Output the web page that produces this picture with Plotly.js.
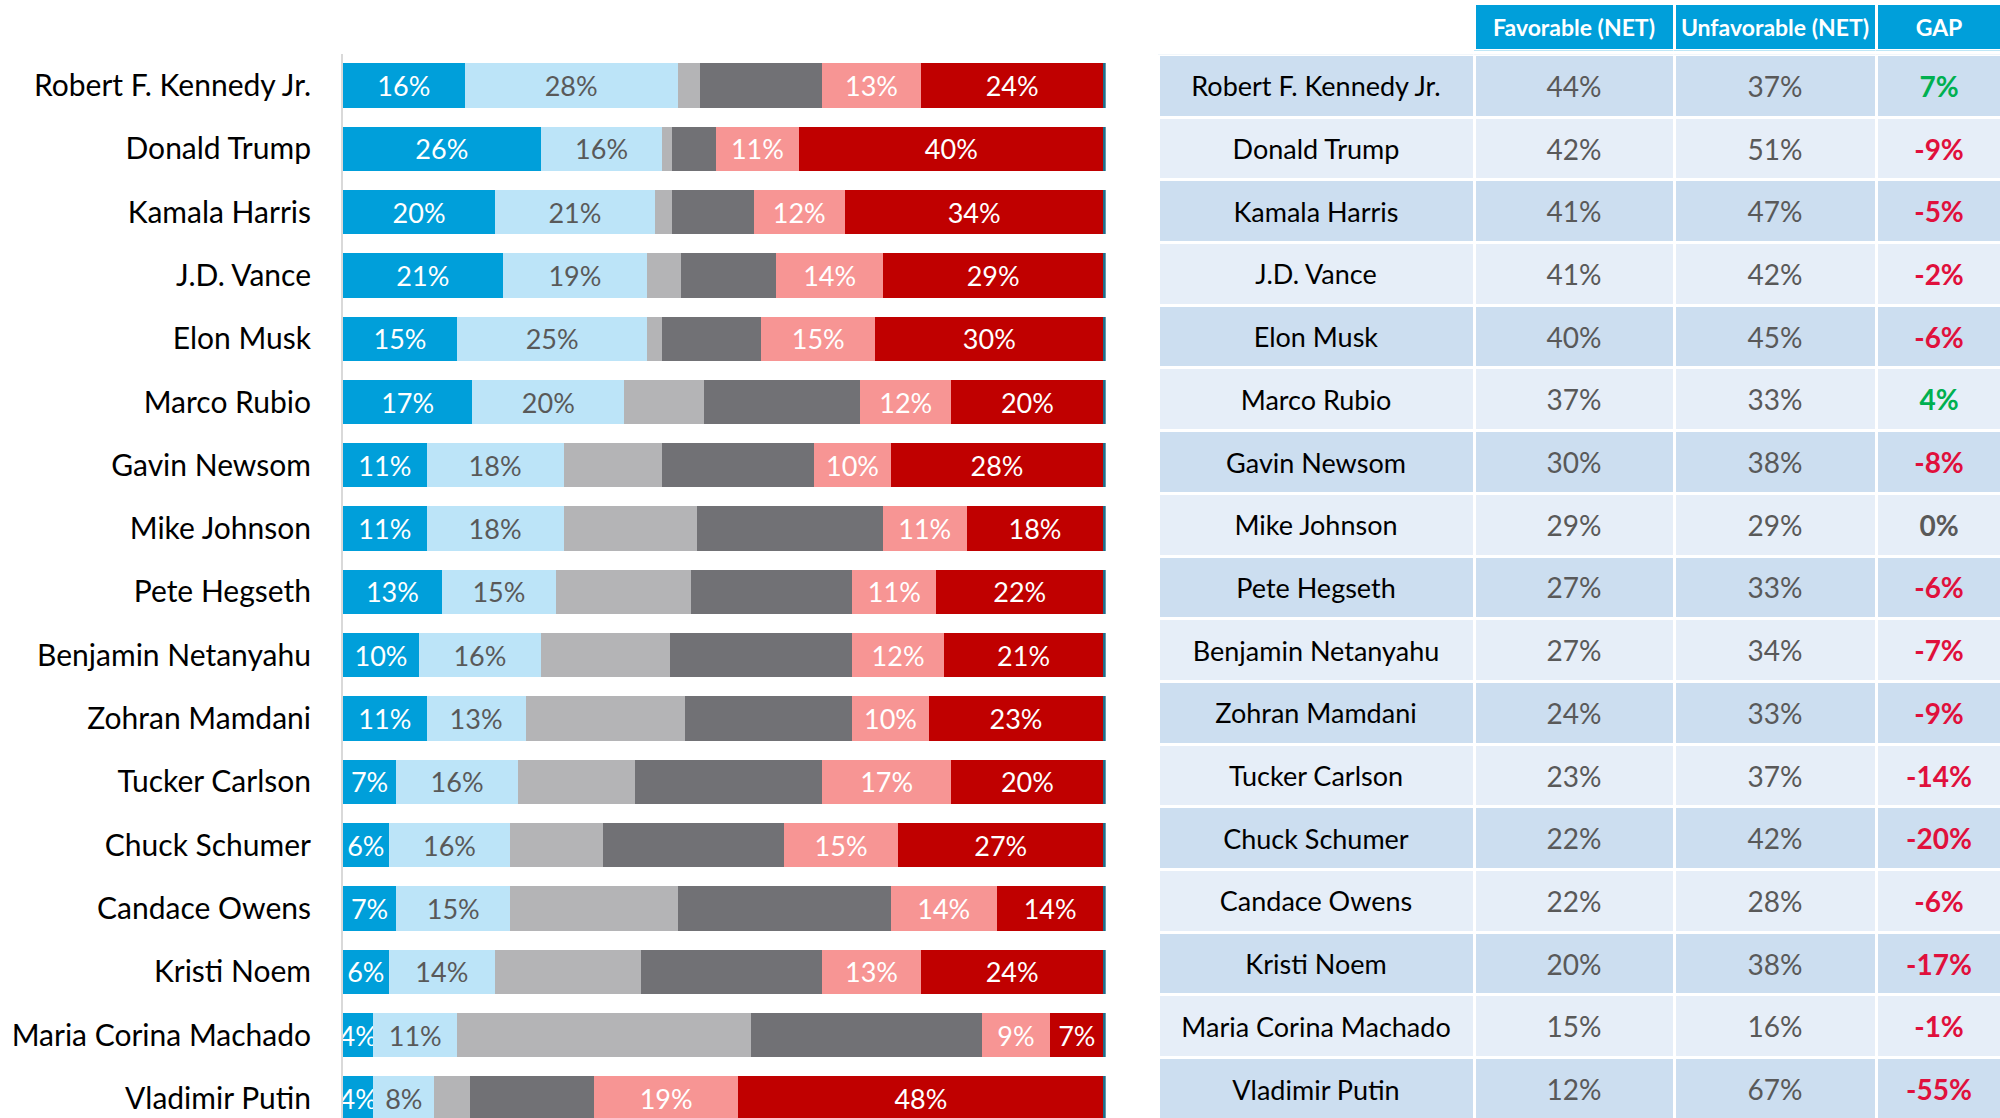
<!DOCTYPE html>
<html>
<head>
<meta charset="utf-8">
<script src="https://cdn.plot.ly/plotly-3.0.1.min.js"></script>
<style>
html, body { margin: 0; padding: 0; overflow: hidden; background: #ffffff; }
#chart { width: 2000px; height: 1160px; }
</style>
</head>
<body>
<div id="chart"></div>
<script>
// ---------- DATA ----------
const names = ["Robert F. Kennedy Jr.", "Donald Trump", "Kamala Harris", "J.D. Vance", "Elon Musk",
  "Marco Rubio", "Gavin Newsom", "Mike Johnson", "Pete Hegseth", "Benjamin Netanyahu",
  "Zohran Mamdani", "Tucker Carlson", "Chuck Schumer", "Candace Owens", "Kristi Noem",
  "Maria Corina Machado", "Vladimir Putin"];

const veryFav   = [16, 26, 20, 21, 15, 17, 11, 11, 13, 10, 11, 7, 6, 7, 6, 4, 4];
const someFav   = [28, 16, 21, 19, 25, 20, 18, 18, 15, 16, 13, 16, 16, 15, 14, 11, 8];
const neutral   = [3, 1.3, 2.2, 4.5, 2, 10.5, 13, 17.6, 17.8, 17, 21, 15.4, 12.2, 22, 19.2, 38.7, 4.7];
const neverHeard= [16, 5.7, 10.8, 12.5, 13, 20.5, 20, 24.4, 21.2, 24, 22, 24.6, 23.8, 28, 23.8, 30.3, 16.3];
const someUnfav = [13, 11, 12, 14, 15, 12, 10, 11, 11, 12, 10, 17, 15, 14, 13, 9, 19];
const veryUnfav = [24, 40, 34, 29, 30, 20, 28, 18, 22, 21, 23, 20, 27, 14, 24, 7, 48];
const other     = [0.3, 0.3, 0.3, 0.3, 0.3, 0.3, 0.3, 0.3, 0.3, 0.3, 0.3, 0.3, 0.3, 0.3, 0.3, 0.3, 0.3];

const favNet   = [44, 42, 41, 41, 40, 37, 30, 29, 27, 27, 24, 23, 22, 22, 20, 15, 12];
const unfavNet = [37, 51, 47, 42, 45, 33, 38, 29, 33, 34, 33, 37, 42, 28, 38, 16, 67];
const gap      = [7, -9, -5, -2, -6, 4, -8, 0, -6, -7, -9, -14, -20, -6, -17, -1, -55];

const tableHeaders = ["", "Favorable (NET)", "Unfavorable (NET)", "GAP"];

// ---------- STYLE ----------
const FONT = "Lato, 'Open Sans', sans-serif";
const H = 1160;
const px = p => 1 - p / H;
const colW = [316, 200, 202, 126];
const rowDark = "#CCDEF0", rowLight = "#E6EEF8";
const rowColors = names.map((_, i) => i % 2 === 0 ? rowDark : rowLight);
const pct = v => v + "%";

function seg(vals, color, txtColor, showText) {
  return {
    type: "bar", orientation: "h", x: vals, y: names, xaxis: "x", yaxis: "y",
    marker: { color: color, line: { width: 0 } },
    text: showText ? vals.map(pct) : null,
    textposition: showText ? "inside" : "none",
    insidetextanchor: "middle", textangle: 0, constraintext: "none",
    textfont: { family: FONT, size: 27, color: txtColor },
    hoverinfo: "skip", showlegend: false, cliponaxis: false
  };
}

const traces = [
  seg(veryFav, "#009FDA", "#FFFFFF", true),
  seg(someFav, "#BCE4F8", "#595959", true),
  seg(neutral, "#B4B4B6", "#595959", false),
  seg(neverHeard, "#717175", "#FFFFFF", false),
  seg(someUnfav, "#F79594", "#FFFFFF", true),
  seg(veryUnfav, "#C00000", "#FFFFFF", true),
  seg(other, "#1F6F8B", "#FFFFFF", false)
];

// table columns
const gapColors = gap.map(g => g > 0 ? "#00B050" : (g < 0 ? "#E0103C" : "#595959"));
const colTexts = [names, favNet.map(pct), unfavNet.map(pct), gap.map(pct)];
const colFontColors = [names.map(() => "#000000"), favNet.map(() => "#595959"), unfavNet.map(() => "#595959"), gapColors];
const colBold = [false, false, false, true];
const colSize = [27, 28, 28, 28];

colTexts.forEach((txt, c) => {
  traces.push({
    type: "bar", orientation: "h", x: names.map(() => colW[c]), y: names,
    xaxis: "x2", yaxis: "y3", width: 1,
    marker: { color: rowColors, line: { color: "#FFFFFF", width: 3 } },
    text: txt, textposition: "inside", insidetextanchor: "middle", textangle: 0, constraintext: "none",
    textfont: { family: FONT, size: colSize[c], color: colFontColors[c], weight: colBold[c] ? "bold" : "normal" },
    hoverinfo: "skip", showlegend: false
  });
});

tableHeaders.forEach((h, c) => {
  traces.push({
    type: "bar", orientation: "h", x: [colW[c]], y: ["hdr"],
    xaxis: "x2", yaxis: "y4", width: 1,
    marker: { color: c === 0 ? "rgba(0,0,0,0)" : "#009FDA", line: { color: "#FFFFFF", width: c === 0 ? 0 : 3 } },
    text: [h], textposition: "inside", insidetextanchor: "middle", textangle: 0, constraintext: "none",
    textfont: { family: FONT, size: 23, color: "#FFFFFF", weight: "bold" },
    hoverinfo: "skip", showlegend: false
  });
});

const hidden = { showgrid: false, zeroline: false, showticklabels: false, showline: false, ticks: "" };

const layout = {
  width: 2000, height: H,
  margin: { l: 0, r: 0, t: 0, b: 0, pad: 0 },
  paper_bgcolor: "#FFFFFF", plot_bgcolor: "rgba(0,0,0,0)",
  barmode: "stack", bargap: 0.3,
  showlegend: false,
  font: { family: FONT },
  xaxis: Object.assign({ domain: [343 / 2000, 1105.7 / 2000], range: [0, 100.3], fixedrange: true }, hidden),
  yaxis: {
    type: "category", domain: [px(1130), px(53.85)], range: [16.5, -0.5], anchor: "x",
    showgrid: false, zeroline: false, showline: true, linecolor: "#D9D9D9", linewidth: 2,
    ticks: "outside", ticklen: 24, tickcolor: "rgba(0,0,0,0)",
    tickfont: { family: FONT, size: 30, color: "#000000" }
  },
  xaxis2: Object.assign({ domain: [1158 / 2000, 1], range: [0, 842], anchor: "y3" }, hidden),
  yaxis3: Object.assign({ type: "category", domain: [px(1120.4), px(54.45)], range: [16.5, -0.5], anchor: "x2" }, hidden),
  yaxis4: Object.assign({ type: "category", domain: [px(50.5), px(3.5)], range: [0.5, -0.5], anchor: "x2" }, hidden)
};

Plotly.newPlot("chart", traces, layout, { displayModeBar: false, staticPlot: true });
</script>
</body>
</html>
